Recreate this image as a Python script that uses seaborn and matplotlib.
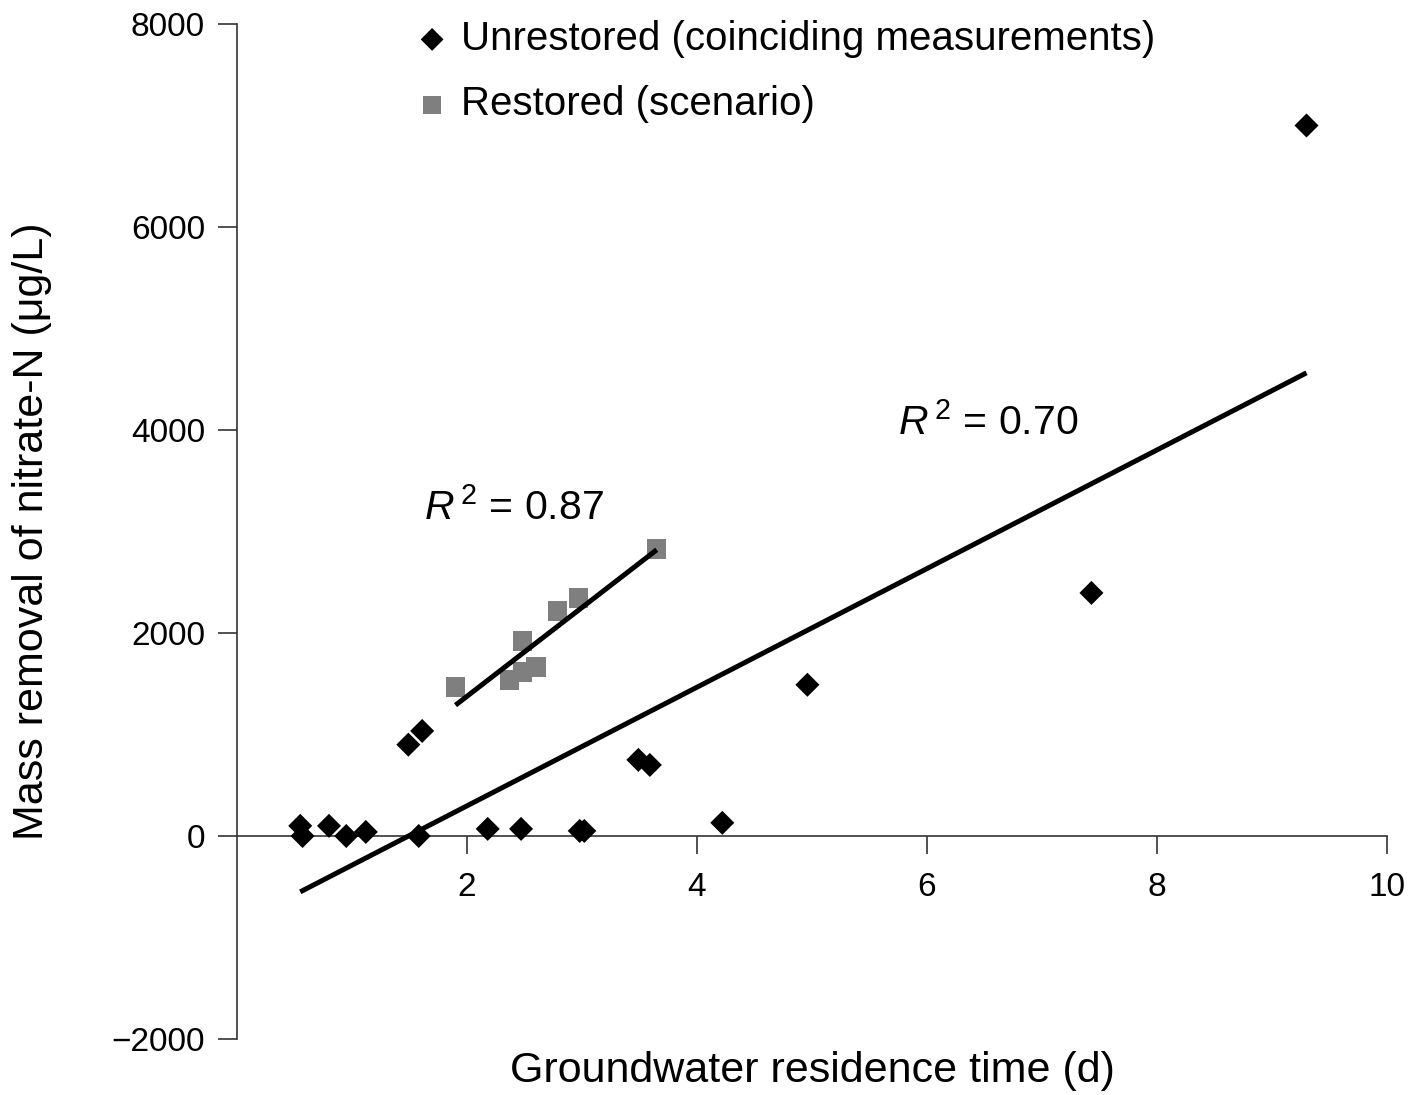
import matplotlib
matplotlib.use("Agg")
import numpy as np
import pandas as pd
import matplotlib.pyplot as plt
import seaborn as sns

# values
unrestored_time = [0.55, 0.57, 0.80, 0.95, 1.12, 1.49, 1.61, 1.58, 2.18, 2.47,
                   2.98, 3.02, 3.49, 3.59, 4.22, 4.96, 7.43, 9.30]
unrestored_removal = [100, 0, 100, 0, 40, 900, 1035, 0, 70, 70,
                      50, 50, 750, 700, 130, 1490, 2395, 7000]

restored_time = [1.90, 2.37, 2.48, 2.60, 2.48, 2.79, 2.97, 3.65]
restored_removal = [1468, 1537, 1616, 1665, 1921, 2217, 2345, 2828]

x_ticks = [2, 4, 6, 8, 10]
y_ticks = [-2000, 0, 2000, 4000, 6000, 8000]

unrestored_label = "Unrestored (coinciding measurements)"
restored_label = "Restored (scenario)"
r2_labels = ["0.70", "0.87"]

sns.set_style("ticks")
plt.rcParams["font.family"] = ["Liberation Sans", "DejaVu Sans"]
plt.rcParams["mathtext.fontset"] = "custom"
plt.rcParams["mathtext.rm"] = "Liberation Sans"
plt.rcParams["mathtext.it"] = "Liberation Sans:italic"
plt.rcParams["text.color"] = "black"
plt.rcParams["axes.labelcolor"] = "black"
plt.rcParams["xtick.labelcolor"] = "black"
plt.rcParams["ytick.labelcolor"] = "black"

unrestored = pd.DataFrame({"time": unrestored_time, "removal": unrestored_removal})
restored = pd.DataFrame({"time": restored_time, "removal": restored_removal})

fig = plt.figure(figsize=(14.08, 10.95), dpi=100)
ax = fig.add_axes([237 / 1408, 56 / 1095, 1150 / 1408, 1015 / 1095])

sns.scatterplot(data=unrestored, x="time", y="removal", marker="D", s=150,
                color="black", edgecolor="none", label=unrestored_label, ax=ax, zorder=3)
sns.scatterplot(data=restored, x="time", y="removal", marker="s", s=190,
                color="#7f7f7f", edgecolor="none", label=restored_label, ax=ax, zorder=3)

line_kws = dict(color="black", lw=3.6, solid_capstyle="butt", zorder=4)
sns.regplot(data=unrestored, x="time", y="removal", scatter=False, ci=None,
            truncate=True, line_kws=line_kws, ax=ax)
sns.regplot(data=restored, x="time", y="removal", scatter=False, ci=None,
            truncate=True, line_kws=line_kws, ax=ax)

ax.text(5.75, 3950, r"$R^{\,2}$ = " + r2_labels[0], fontsize=29.5, va="baseline")
ax.text(1.63, 3113, r"$R^{\,2}$ = " + r2_labels[1], fontsize=29.5, va="baseline")

ax.set_xlim(0, 10)
ax.set_ylim(-2000, 8000)
ax.set_xticks(x_ticks)
ax.set_yticks(y_ticks)

ax.spines["top"].set_visible(False)
ax.spines["right"].set_visible(False)
ax.spines["bottom"].set_position(("data", 0))
for side in ["left", "bottom"]:
    ax.spines[side].set_color("#333333")
    ax.spines[side].set_linewidth(1.2)

ax.tick_params(axis="y", direction="out", length=14, width=1.2, color="#333333",
               pad=9, labelsize=24)
ax.tick_params(axis="x", direction="out", length=13, width=1.2, color="#333333",
               pad=13, labelsize=24)

ax.set_xlabel("Groundwater residence time (d)", fontsize=31)
ax.set_ylabel("Mass removal of nitrate-N (\u03bcg/L)", fontsize=31)
ax.xaxis.set_label_coords(0.5, -0.012)
ax.yaxis.set_label_coords(-0.161, 0.5)

ax.legend(loc="upper left", bbox_to_anchor=(417 / 1408, 1 - 20 / 1095),
          bbox_transform=fig.transFigure, frameon=False, fontsize=29,
          handlelength=0.75, handletextpad=0.35, borderpad=0, borderaxespad=0,
          labelspacing=0.68, markerscale=0.95)

fig.savefig("out.png", dpi=100)
